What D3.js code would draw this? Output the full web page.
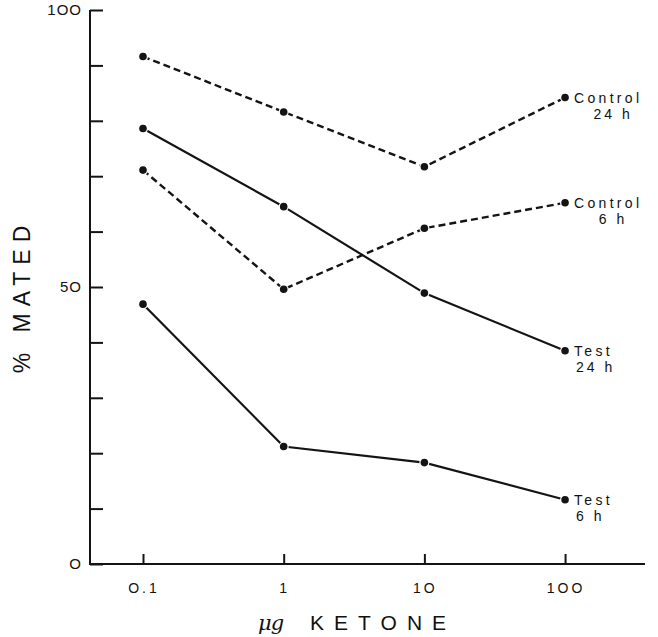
<!DOCTYPE html>
<html>
<head>
<meta charset="utf-8">
<script src="https://cdn.jsdelivr.net/npm/d3@7"></script>
<style>
  body { margin: 0; background: #fff; }
  text { font-family: "Liberation Sans", Arial, sans-serif; fill: #111; }
</style>
</head>
<body>
<svg id="svg" width="658" height="637"></svg>
<script>
// doses (ug ketone) on a log axis
const doses = [0.1, 1, 10, 100];
const doseLabels = ['O.1', '1', '1O', '1OO'];

// % mated
const control24 = [91.6, 81.6, 71.7, 84.2];
const control6 = [71.1, 49.6, 60.6, 65.2];
const test24 = [78.6, 64.5, 48.9, 38.5];
const test6 = [46.9, 21.2, 18.3, 11.6];

const yTicks = [0, 10, 20, 30, 40, 50, 60, 70, 80, 90, 100];
const yTickLabels = { 0: 'O', 50: '5O', 100: '1OO' };

const series = [
    { name: 'Control', sub: '24 h', values: control24, dashed: true },
    { name: 'Control', sub: '6 h', values: control6, dashed: true },
    { name: 'Test', sub: '24 h', values: test24, dashed: false },
    { name: 'Test', sub: '6 h', values: test6, dashed: false }
];

const svg = d3.select('#svg');
const ink = '#141414';

const x = d3.scaleLog().domain([0.042, 370]).range([90, 645]);
const y = d3.scaleLinear().domain([0, 100]).range([564, 10]);

// y axis: ticks point inward (right)
const yAxis = d3.axisRight(y).tickValues(yTicks).tickSize(13).tickFormat('');
const gy = svg.append('g').attr('transform', 'translate(90,0)').call(yAxis);
gy.select('.domain').attr('d', 'M0,' + y(100) + 'V' + (y(0) + 1)).attr('stroke', ink).attr('stroke-width', 2);
gy.selectAll('.tick line').attr('stroke', ink).attr('stroke-width', 2);

svg.selectAll('.ylab')
    .data(yTicks.filter(d => yTickLabels[d] !== undefined))
    .join('text')
    .attr('class', 'ylab')
    .attr('x', 82)
    .attr('y', d => y(d) + 5)
    .attr('text-anchor', 'end')
    .style('font-size', '15px')
    .style('letter-spacing', '1px')
    .text(d => yTickLabels[d]);

// x axis: ticks point inward (up)
const xAxis = d3.axisTop(x).tickValues(doses).tickSize(10).tickFormat('');
const gx = svg.append('g').attr('transform', 'translate(0,' + y(0) + ')').call(xAxis);
gx.select('.domain').attr('d', 'M89,0H645').attr('stroke', ink).attr('stroke-width', 2);
gx.selectAll('.tick line').attr('stroke', ink).attr('stroke-width', 2);

svg.selectAll('.xlab')
    .data(doses)
    .join('text')
    .attr('class', 'xlab')
    .attr('x', d => x(d) + 1)
    .attr('y', 593)
    .attr('text-anchor', 'middle')
    .style('font-size', '14px')
    .style('letter-spacing', '3px')
    .text((d, i) => doseLabels[i]);

// axis titles
svg.append('text')
    .attr('transform', 'translate(30,296) rotate(-90)')
    .attr('text-anchor', 'middle')
    .style('font-size', '23px')
    .style('letter-spacing', '7px')
    .text('% MATED');

const xt = svg.append('text')
    .attr('x', 258)
    .attr('y', 630)
    .style('font-size', '21px');
xt.append('tspan').style('font-family', '"DejaVu Serif", serif').style('font-style', 'italic').style('letter-spacing', '-1px').text('μg');
xt.append('tspan').attr('dx', 27).style('letter-spacing', '10px').text('KETONE');

// lines
const line = d3.line().x((d, i) => x(doses[i])).y(d => y(d));

svg.selectAll('.series')
    .data(series)
    .join('path')
    .attr('class', 'series')
    .attr('d', d => line(d.values))
    .attr('fill', 'none')
    .attr('stroke', ink)
    .attr('stroke-width', d => d.dashed ? 2.4 : 2.2)
    .attr('stroke-dasharray', d => d.dashed ? '7,4' : null);

// markers with a white halo so lines stop short of them
const pts = series.flatMap(s => s.values.map((v, i) => ({ dose: doses[i], v })));
svg.selectAll('.pt')
    .data(pts)
    .join('circle')
    .attr('class', 'pt')
    .attr('cx', d => x(d.dose))
    .attr('cy', d => y(d.v))
    .attr('r', 3.8)
    .attr('fill', ink)
    .attr('stroke', '#fff')
    .attr('stroke-width', 2.5)
    .attr('paint-order', 'stroke');

// end labels
const lab = svg.selectAll('.lab')
    .data(series)
    .join('g')
    .attr('class', 'lab')
    .attr('transform', d => 'translate(' + (x(100) + 9) + ',' + y(d.values[3]) + ')');

lab.append('text')
    .attr('y', 5)
    .style('font-size', '14px')
    .style('letter-spacing', '3.3px')
    .text(d => d.name);

lab.append('text')
    .attr('x', d => d.name === 'Control' ? 39 : 2)
    .attr('y', 21)
    .attr('text-anchor', d => d.name === 'Control' ? 'middle' : 'start')
    .style('font-size', '14px')
    .style('letter-spacing', '3px')
    .text(d => d.sub);
</script>
</body>
</html>
